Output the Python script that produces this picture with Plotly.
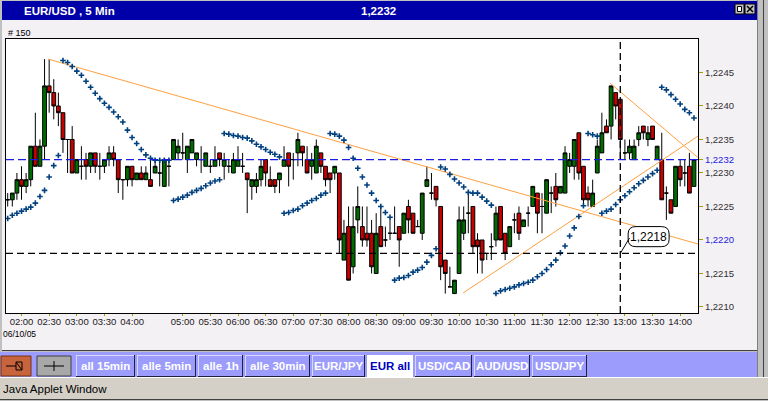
import plotly.graph_objects as go

# ---------------- data (EUR/USD 5 min bars, index 0..149) ----------------
open_ = [1.2226,1.2226,1.2227,1.2229,1.2228,1.2229,1.2234,1.2231,1.2234,1.2243,
         1.2242,1.2240,1.2239,1.2235,1.2235,1.2230,1.2231,1.2232,1.2231,1.2233,
         1.2231,1.2231,1.2232,1.2233,1.2232,1.2229,1.2229,1.2231,1.2229,1.2230,
         1.2229,1.2229,1.2230,1.2230,1.2228,1.2231,1.2232,1.2233,1.2233,1.2232,
         1.2233,1.2232,1.2232,1.2231,1.2231,1.2231,1.2233,1.2231,1.2231,1.2230,
         1.2231,1.2231,1.2230,1.2228,1.2228,1.2229,1.2232,1.2229,1.2229,1.2229,
         1.2231,1.2233,1.2232,1.2233,1.2234,1.2232,1.2231,1.2230,1.2233,1.2231,
         1.2230,1.2230,1.2230,1.2217,1.2222,1.2216,1.2223,1.2222,1.2221,1.2221,
         1.2215,1.2222,1.2220,1.2221,1.2221,1.2222,1.2221,1.2225,1.2224,1.2222,
         1.2221,1.2228,1.2227,1.2228,1.2225,1.2217,1.2213,1.2212,1.2215,1.2221,
         1.2224,1.2225,1.2220,1.2220,1.2218,1.2219,1.2220,1.2225,1.2221,1.2219,
         1.2223,1.2224,1.2222,1.2224,1.2225,1.2227,1.2225,1.2224,1.2227,1.2228,
         1.2227,1.2227,1.2231,1.2231,1.2236,1.2231,1.2227,1.2225,1.2230,1.2233,
         1.2237,1.2237,1.2242,1.2241,1.2233,1.2233,1.2232,1.2235,1.2237,1.2235,
         1.2237,1.2232,1.2232,1.2227,1.2226,1.2225,1.2231,1.2230,1.2231,1.2228]
high = [1.2227,1.2227,1.2230,1.2231,1.2230,1.2234,1.2239,1.2235,1.2247,1.2247,
        1.2244,1.2242,1.2239,1.2235,1.2237,1.2232,1.2234,1.2233,1.2233,1.2233,
        1.2233,1.2232,1.2234,1.2234,1.2232,1.2229,1.2231,1.2231,1.2230,1.2231,
        1.2231,1.2232,1.2232,1.2232,1.2232,1.2232,1.2235,1.2235,1.2236,1.2234,
        1.2235,1.2233,1.2234,1.2233,1.2232,1.2234,1.2233,1.2233,1.2232,1.2233,
        1.2234,1.2233,1.2230,1.2229,1.2230,1.2232,1.2232,1.2231,1.2229,1.2230,
        1.2234,1.2233,1.2233,1.2236,1.2234,1.2234,1.2233,1.2235,1.2233,1.2231,
        1.2230,1.2231,1.2230,1.2223,1.2225,1.2225,1.2228,1.2225,1.2225,1.2223,
        1.2224,1.2225,1.2222,1.2223,1.2225,1.2222,1.2224,1.2226,1.2224,1.2223,
        1.2227,1.2231,1.2230,1.2228,1.2225,1.2217,1.2216,1.2214,1.2225,1.2225,
        1.2227,1.2225,1.2221,1.2220,1.2218,1.2221,1.2225,1.2225,1.2221,1.2222,
        1.2224,1.2225,1.2223,1.2225,1.2228,1.2227,1.2227,1.2229,1.2228,1.2230,
        1.2228,1.2234,1.2233,1.2235,1.2236,1.2231,1.2228,1.2229,1.2235,1.2239,
        1.2238,1.2243,1.2242,1.2241,1.2235,1.2235,1.2235,1.2237,1.2237,1.2237,
        1.2237,1.2234,1.2236,1.2228,1.2226,1.2231,1.2232,1.2232,1.2233,1.2232]
low = [1.2225,1.2225,1.2226,1.2226,1.2227,1.2228,1.2231,1.2231,1.2232,1.2239,
       1.2238,1.2237,1.2233,1.2230,1.2230,1.2230,1.2229,1.2229,1.2230,1.2230,
       1.2229,1.2230,1.2231,1.2231,1.2227,1.2226,1.2228,1.2228,1.2229,1.2229,
       1.2229,1.2228,1.2230,1.2228,1.2228,1.2228,1.2232,1.2232,1.2232,1.2230,
       1.2233,1.2231,1.2230,1.2231,1.2230,1.2231,1.2231,1.2229,1.2230,1.2230,
       1.2231,1.2230,1.2224,1.2226,1.2227,1.2228,1.2228,1.2228,1.2227,1.2227,
       1.2231,1.2228,1.2229,1.2231,1.2231,1.2230,1.2229,1.2230,1.2230,1.2228,
       1.2227,1.2229,1.2218,1.2217,1.2214,1.2215,1.2221,1.2219,1.2219,1.2215,
       1.2215,1.2219,1.2219,1.2220,1.2221,1.2216,1.2221,1.2221,1.2221,1.2222,
       1.2220,1.2228,1.2226,1.2225,1.2214,1.2212,1.2213,1.2212,1.2215,1.2220,
       1.2221,1.2218,1.2215,1.2215,1.2217,1.2217,1.2219,1.2220,1.2217,1.2219,
       1.2221,1.2220,1.2222,1.2222,1.2225,1.2221,1.2221,1.2224,1.2224,1.2225,
       1.2227,1.2227,1.2230,1.2229,1.2229,1.2225,1.2225,1.2225,1.2230,1.2233,
       1.2236,1.2235,1.2238,1.2232,1.2232,1.2232,1.2232,1.2234,1.2235,1.2234,
       1.2235,1.2232,1.2226,1.2223,1.2224,1.2225,1.2228,1.2228,1.2227,1.2228]
close = [1.2226,1.2227,1.2229,1.2228,1.2229,1.2234,1.2231,1.2234,1.2243,1.2242,
         1.2240,1.2239,1.2235,1.2235,1.2230,1.2232,1.2231,1.2231,1.2233,1.2231,
         1.2231,1.2232,1.2233,1.2232,1.2229,1.2229,1.2231,1.2229,1.2230,1.2229,
         1.2230,1.2228,1.2231,1.2230,1.2232,1.2231,1.2235,1.2234,1.2233,1.2234,
         1.2235,1.2233,1.2232,1.2233,1.2231,1.2232,1.2232,1.2232,1.2231,1.2232,
         1.2232,1.2231,1.2229,1.2229,1.2229,1.2231,1.2230,1.2228,1.2228,1.2230,
         1.2232,1.2231,1.2232,1.2235,1.2233,1.2230,1.2232,1.2234,1.2231,1.2229,
         1.2229,1.2231,1.2220,1.2221,1.2214,1.2222,1.2225,1.2220,1.2220,1.2216,
         1.2221,1.2219,1.2220,1.2221,1.2221,1.2220,1.2224,1.2223,1.2221,1.2222,
         1.2227,1.2229,1.2227,1.2226,1.2216,1.2215,1.2213,1.2214,1.2223,1.2223,
         1.2224,1.2219,1.2219,1.2217,1.2218,1.2219,1.2224,1.2220,1.2218,1.2222,
         1.2223,1.2221,1.2223,1.2224,1.2228,1.2224,1.2225,1.2229,1.2227,1.2226,
         1.2228,1.2233,1.2232,1.2235,1.2230,1.2226,1.2226,1.2227,1.2234,1.2236,
         1.2236,1.2243,1.2240,1.2235,1.2233,1.2234,1.2234,1.2236,1.2236,1.2236,
         1.2235,1.2234,1.2226,1.2227,1.2224,1.2231,1.2229,1.2230,1.2227,1.2232]
sar = [1.22232,1.22237,1.2224,1.22243,1.22246,1.22249,1.22255,1.22265,1.22274,1.22294,1.22311,1.22326,
       1.22468,1.22465,1.22459,1.22452,1.22446,1.22437,1.22428,1.22419,1.22411,1.22404,1.22398,1.22391,
       1.22384,1.22376,1.22364,1.22353,1.22344,1.22335,1.22327,1.22322,1.22319,1.22319,1.22319,1.22319,
       1.22259,1.22261,1.22264,1.22267,1.22271,1.22274,1.22277,1.22281,1.22285,1.22288,1.2229,
       1.22359,1.22358,1.22356,1.22355,1.22353,1.22352,1.22348,1.22343,1.22339,1.22335,1.22331,1.22328,1.22324,
       1.2224,1.22241,1.22244,1.22246,1.22251,1.22255,1.22259,1.22262,1.22267,1.2227,
       1.22359,1.22358,1.22355,1.22349,1.22338,1.22322,1.22307,1.22294,1.22282,1.2227,1.22259,1.2225,1.22241,1.22234,
       1.2214,1.22143,1.22144,1.22147,1.22152,1.22155,1.22159,1.22167,1.22177,1.22187,
       1.22309,1.22306,1.22298,1.22291,1.22285,1.22279,1.22271,1.2227,1.2227,1.22264,1.22258,1.22252,
       1.2212,1.22124,1.22126,1.22128,1.2213,1.22133,1.22135,1.22137,1.2214,1.22145,
       1.2215,1.22156,1.22163,1.2217,1.22181,1.22191,1.22206,1.22218,1.22235,1.22251,
       1.22359,1.22357,1.22355,
       1.2224,1.22243,1.22246,1.22253,1.2226,1.22266,1.22272,1.22278,1.22284,1.22289,1.22294,1.22299,1.22304,
       1.22428,1.22424,1.22417,1.2241,1.22403,1.22395,1.2239,1.22382]

time_tick_bars = [3, 9, 15, 21, 27, 38, 44, 50, 56, 62, 68, 74, 80, 86, 92, 98, 104,
                  110, 116, 122, 128, 134, 140, 146]
time_tick_labels = ["02:00", "02:30", "03:00", "03:30", "04:00", "05:00", "05:30", "06:00",
                    "06:30", "07:00", "07:30", "08:00", "08:30", "09:00", "09:30", "10:00",
                    "10:30", "11:00", "11:30", "12:00", "12:30", "13:00", "13:30", "14:00"]
price_ticks = [1.2210, 1.2215, 1.2220, 1.2225, 1.2230, 1.2232, 1.2235, 1.2240, 1.2245]
price_tick_labels = ["1,2210", "1,2215", "<span style='color:#1c1ce0'>1,2220</span>", "1,2225",
                     "1,2230", "<span style='color:#1c1ce0'>1,2232</span>", "1,2235", "1,2240", "1,2245"]

trend_x0 = [8.8, 98.9, 130.8]
trend_y0 = [1.2247, 1.22121, 1.22434]
trend_x1 = [149.87, 149.87, 149.87]
trend_y1 = [1.22194, 1.22355, 1.22323]

current_price = 1.2232
cursor_price = 1.2218
cursor_bar = 133
cursor_label = "1,2218"
n_bars = 150

# ---------------- styling ----------------
W, H = 768, 401
GREEN = "#006c00"
RED = "#c80000"
SARC = "#00407f"
ORANGE = "#ffa040"
BLUE = "#1c1ce0"
PANEL = "#f4f1f5"
TITLEBLUE = "#0000a8"
BTN = "#9c9cfc"
GRAY = "#c0c0c0"
FONT = "Liberation Sans, Arial, sans-serif"

def px(x):
    return x / W

def py(y):
    return 1 - y / H

PL, PR, PT, PB = 6, 698, 39, 313

fig = go.Figure()
idx = list(range(n_bars))

fig.add_trace(go.Candlestick(
    x=idx, open=open_, high=high, low=low, close=close,
    increasing=dict(fillcolor=GREEN, line=dict(color="black", width=1)),
    decreasing=dict(fillcolor=RED, line=dict(color="black", width=1)),
    whiskerwidth=0, hoverinfo="skip", showlegend=False))

for x0, y0, x1, y1 in zip(trend_x0, trend_y0, trend_x1, trend_y1):
    fig.add_trace(go.Scatter(x=[x0, x1], y=[y0, y1], mode="lines",
                             line=dict(color=ORANGE, width=1), hoverinfo="skip",
                             showlegend=False))

fig.add_trace(go.Scatter(x=idx, y=sar, mode="markers",
                         marker=dict(symbol="cross-thin", size=4, color=SARC,
                                     line=dict(width=1.6, color=SARC)),
                         hoverinfo="skip", showlegend=False))

shapes = []

def rect(x0, y0, x1, y1, fill, line=None, lw=0, layer="below"):
    shapes.append(dict(type="rect", xref="paper", yref="paper",
                       x0=px(x0), x1=px(x1), y0=py(y1), y1=py(y0),
                       fillcolor=fill, line=dict(color=line or fill, width=lw), layer=layer))

def seg(x0, y0, x1, y1, color, w=1, layer="below"):
    shapes.append(dict(type="line", xref="paper", yref="paper",
                       x0=px(x0), x1=px(x1), y0=py(y0), y1=py(y1),
                       line=dict(color=color, width=w), layer=layer))

# window background / frame
rect(0, 0, W, H, GRAY)
rect(2, 1, 757, 20, TITLEBLUE)
rect(2, 20, 757, 350, PANEL)
seg(2, 350.5, 757, 350.5, "#404040")
rect(PL, PT, PR, PB, "white")
seg(757.5, 0, 757.5, 378, "#808080")
seg(763.5, 0, 763.5, 378, "#404040")
# title bar icons
rect(735, 4, 744, 14, "#c0c0c0", "black", 1, "above")
rect(737.5, 6.5, 741.5, 11.5, "white", "black", 1, "above")
rect(745, 4, 755, 14, "#c0c0c0", "black", 1, "above")
seg(747, 6, 753, 12, "black", 1.5, "above")
seg(753, 6, 747, 12, "black", 1.5, "above")

# button bar
rect(0, 352, 757, 377, BTN)
rect(1, 356, 31, 376, "#c8643c", "#7a3010", 1)
seg(6, 366, 16, 366, "black", 1)
rect(16, 362, 22, 370, "#c8643c", "black", 1)
seg(16, 362, 22, 370, "black", 1)
rect(37, 356, 71, 376, "#a8a8a8", "#404040", 1)
seg(44, 366, 64, 366, "black", 1)
seg(54, 361, 54, 371, "black", 1)

buttons = [("all 15min", 76, 135), ("alle 5min", 137, 196), ("alle 1h", 198, 243),
           ("alle 30min", 245, 310), ("EUR/JPY", 312, 365), ("EUR all", 367, 413),
           ("USD/CAD", 415, 472), ("AUD/USD", 474, 530), ("USD/JPY", 532, 587)]
annotations = []
for label, bx0, bx1 in buttons:
    sel = label == "EUR all"
    rect(bx0, 355, bx1, 377, "white" if sel else BTN)
    if not sel:
        seg(bx0, 355.5, bx1, 355.5, "#d8d8ff")
        seg(bx0 + 0.5, 355, bx0 + 0.5, 377, "#d8d8ff")
        seg(bx1 - 0.5, 355, bx1 - 0.5, 377, "#202040")
        seg(bx0, 376.5, bx1, 376.5, "#202040")
    annotations.append(dict(x=px((bx0 + bx1) / 2), y=py(366), xref="paper", yref="paper",
                            text="<b>" + label + "</b>", showarrow=False,
                            xanchor="center", yanchor="middle",
                            font=dict(family=FONT, size=11.5,
                                      color="#0000c0" if sel else "white")))

# status bar
rect(0, 378, W, 399, "#d4d0c8")
seg(0, 377.5, W, 377.5, "#ffffff")
seg(0, 399.5, W, 399.5, "#404040")

# chart overlays (data-referenced)
shapes.append(dict(type="line", xref="x domain", yref="y", x0=0, x1=1,
                   y0=current_price, y1=current_price,
                   line=dict(color=BLUE, width=1.3, dash="8px,4px"), layer="above"))
shapes.append(dict(type="line", xref="x domain", yref="y", x0=0, x1=1,
                   y0=cursor_price, y1=cursor_price,
                   line=dict(color="black", width=1.3, dash="7px,4px"), layer="above"))
shapes.append(dict(type="line", xref="x", yref="y domain", x0=cursor_bar, x1=cursor_bar,
                   y0=0, y1=1, line=dict(color="black", width=1.3, dash="7px,4px"),
                   layer="above"))

# callout bubble
bx0, bx1 = cursor_bar + 1.7, cursor_bar + 10.6
by0, by1 = cursor_price + 0.00010, cursor_price + 0.00040
rx, ry = 1.7, 0.00011
path = (f"M {bx0+rx},{by0} L {bx1-rx},{by0} Q {bx1},{by0} {bx1},{by0+ry} "
        f"L {bx1},{by1-ry} Q {bx1},{by1} {bx1-rx},{by1} L {bx0+rx},{by1} "
        f"Q {bx0},{by1} {bx0},{by1-ry} L {bx0},{by0+ry} Q {bx0},{by0} {bx0+rx},{by0} Z")
shapes.append(dict(type="path", xref="x", yref="y", path=path, fillcolor="white",
                   line=dict(color="black", width=1), layer="above"))
shapes.append(dict(type="line", xref="x", yref="y", x0=cursor_bar, y0=cursor_price,
                   x1=bx0 + 0.3, y1=by0 + 0.00013, line=dict(color="black", width=1),
                   layer="above"))
annotations.append(dict(x=(bx0 + bx1) / 2, y=(by0 + by1) / 2, xref="x", yref="y",
                        text=cursor_label, showarrow=False,
                        font=dict(family=FONT, size=12, color="black")))

# title bar texts
annotations.append(dict(x=px(22), y=py(11), xref="paper", yref="paper",
                        text="<b>EUR/USD , 5 Min</b>",
                        showarrow=False, xanchor="left", yanchor="middle",
                        font=dict(family=FONT, size=11.5, color="white")))
annotations.append(dict(x=px(378), y=py(11), xref="paper", yref="paper", text="<b>1,2232</b>",
                        showarrow=False, xanchor="center", yanchor="middle",
                        font=dict(family=FONT, size=11.5, color="white")))
annotations.append(dict(x=px(6), y=py(33), xref="paper", yref="paper", text="# 150",
                        showarrow=False, xanchor="left", yanchor="middle",
                        font=dict(family=FONT, size=9, color="black")))
annotations.append(dict(x=px(1), y=py(333.5), xref="paper", yref="paper", text="06/10/05",
                        showarrow=False, xanchor="left", yanchor="middle",
                        font=dict(family=FONT, size=8.5, color="black")))
annotations.append(dict(x=px(1), y=py(388.5), xref="paper", yref="paper",
                        text="Java Applet Window", showarrow=False, xanchor="left",
                        yanchor="middle", font=dict(family=FONT, size=11.5, color="black")))

x_lo = -0.37
x_hi = 149.87

fig.update_layout(
    width=W, height=H, margin=dict(l=0, r=0, t=0, b=0, pad=0),
    paper_bgcolor=GRAY, plot_bgcolor="rgba(0,0,0,0)",
    shapes=shapes, annotations=annotations, showlegend=False,
    boxgap=0.18, boxgroupgap=0,
    xaxis=dict(domain=[px(PL), px(PR)], range=[x_lo, x_hi], rangeslider=dict(visible=False),
               tickmode="array", tickvals=time_tick_bars, ticktext=time_tick_labels,
               tickangle=0, ticks="outside", ticklen=2, tickcolor="#a0a000", showgrid=False,
               zeroline=False, showline=True, linecolor="black", linewidth=1, mirror=True,
               ticklabelstandoff=-2,
               tickfont=dict(family=FONT, size=9.5, color="#202020")),
    yaxis=dict(domain=[py(PB), py(PT)], range=[1.22091, 1.2250], side="right",
               tickmode="array", tickvals=price_ticks, ticktext=price_tick_labels,
               ticks="outside", ticklen=4, tickcolor="#a0a000", showgrid=False,
               zeroline=False, showline=True, linecolor="black", linewidth=1, mirror=True,
               tickfont=dict(family=FONT, size=9.5, color="#303030")),
)

fig.write_html("out.html", config={"displayModeBar": False},
               post_script="document.body.style.margin='0';document.body.style.overflow='hidden';")
